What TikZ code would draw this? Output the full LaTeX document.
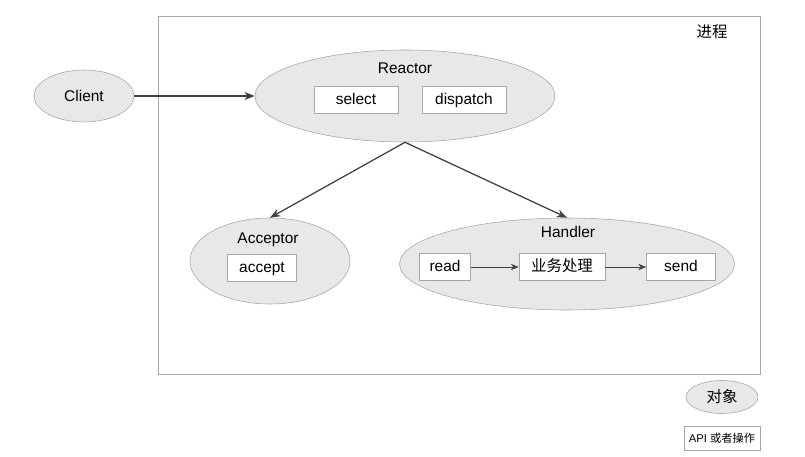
\documentclass[tikz,border=0pt]{standalone}
\usepackage{fontspec}
\setmainfont{Liberation Sans}
\newfontfamily\cjk{Noto Sans CJK SC}
\usetikzlibrary{positioning,arrows.meta,shapes.geometric}
\colorlet{colorObj}{gray!18}
\colorlet{colorLine}{gray!70}
\colorlet{colorArr}{black!75}
\tikzset{
   every node/.style={font=\fontsize{11}{13}\selectfont},
   obj/.style={ellipse,draw=colorLine,fill=colorObj,inner sep=0pt},
   op/.style={rectangle,draw=colorLine,fill=white,minimum height=0.675cm,inner sep=1pt,text height=1.6ex,text depth=0.4ex},
   call/.style={-{Stealth[length=2.6mm,width=2mm]},color=colorArr,line width=0.9pt},
   flow/.style={-{Stealth[length=2mm,width=1.6mm]},color=colorArr,line width=0.6pt},
   procbox/.style={rectangle,draw=colorLine,line width=0.6pt},
}
\begin{document}
\begin{tikzpicture}
      \useasboundingbox (0,0) rectangle (20.125,11.4);
      % process frame
      \draw[procbox] (3.95,2.05) rectangle (19.0,11.0);
      \node (proc) at (17.8,10.6) {\cjk 进程};
      % objects
      \node[obj,minimum width=2.5cm,minimum height=1.3cm] (client) at (2.1,9.0) {Client};
      \node[obj,minimum width=7.5cm,minimum height=2.3cm] (reactor) at (10.125,9.0) {};
      \node (reactorT) at (10.125,9.7) {Reactor};
      \node[op,minimum width=2.1cm] (select) at (8.9,8.9) {select};
      \node[op,minimum width=2.1cm] (dispatch) at (11.6,8.9) {dispatch};
      \node[obj,minimum width=4.0cm,minimum height=2.15cm] (acceptor) at (6.75,4.875) {};
      \node (acceptorT) at (6.7,5.4) {Acceptor};
      \node[op,minimum width=1.725cm] (accept) at (6.55,4.7) {accept};
      \node[obj,minimum width=8.375cm,minimum height=2.3cm] (handler) at (14.175,4.8) {};
      \node (handlerT) at (14.2,5.6) {Handler};
      \node[op,minimum width=1.275cm] (read) at (11.125,4.725) {read};
      \node[op,minimum width=2.15cm] (biz) at (14.05,4.725) {\cjk 业务处理};
      \node[op,minimum width=1.725cm] (send) at (17.025,4.725) {send};
      % legend
      \node[obj,minimum width=1.8cm,minimum height=0.825cm] (legObj) at (18.05,1.475) {\cjk 对象};
      \node[op,minimum width=1.9cm,minimum height=0.6cm,font=\fontsize{8}{10}\selectfont] (legOp) at (18.05,0.45) {API {\cjk 或者操作}};
      % connectors
      \draw[call] (client) -- (reactor);
      \draw[call] (reactor.south) -- (acceptor.north);
      \draw[call] (reactor.south) -- (handler.north);
      \draw[flow] (read) -- (biz);
      \draw[flow] (biz) -- (send);
\end{tikzpicture}
\end{document}
